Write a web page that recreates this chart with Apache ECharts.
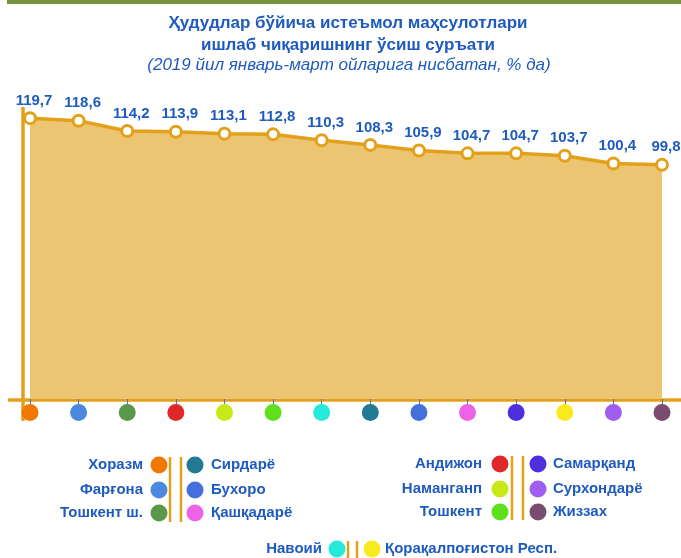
<!DOCTYPE html>
<html>
<head>
<meta charset="utf-8">
<title>Ҳудудлар бўйича истеъмол маҳсулотлари</title>
<script src="https://cdn.jsdelivr.net/npm/echarts@6/dist/echarts.min.js"></script>
<style>
  html, body { margin: 0; padding: 0; background: #fff; }
  #chart { width: 681px; height: 558px; }
</style>
</head>
<body>
<div id="chart"></div>
<script>
// regions in chart order
var regions = ['Хоразм', 'Фарғона', 'Тошкент ш.', 'Андижон', 'Наманганп', 'Тошкент', 'Навоий',
  'Сирдарё', 'Бухоро', 'Қашқадарё', 'Самарқанд', 'Қорақалпоғистон Респ.', 'Сурхондарё', 'Жиззах']
var values = [119.7, 118.6, 114.2, 113.9, 113.1, 112.8, 110.3, 108.3, 105.9, 104.7, 104.7, 103.7, 100.4, 99.8]
var regionColors = ['#F07800', '#4C88E0', '#5A974A', '#E02828', '#C8E818', '#5EE01A', '#25EAD9',
  '#237894', '#4470DD', '#EE62E8', '#4F2EDD', '#F9EA1E', '#A05EF0', '#7A4D6E']

var titleLines = ['Ҳудудлар бўйича истеъмол маҳсулотлари', 'ишлаб чиқаришнинг ўсиш суръати']
var subTitle = '(2019 йил январь-март ойларига нисбатан, % да)'

var FONT = '"Liberation Sans", Arial, sans-serif'
var BLUE = '#1F5BBF'
var GOLD = '#E3A01B'

var chart = echarts.init(document.getElementById('chart'))

function colorOf(name) {
  return regionColors[regions.indexOf(name)]
}

// rich styles for the coloured dots under the axis
var rich = {}
regions.forEach(function (r, i) {
  rich['c' + i] = { width: 17, height: 17, borderRadius: 9, backgroundColor: regionColors[i] }
})

function txt(text, x, y, align, font) {
  return {
    type: 'text', x: x, y: y,
    style: { text: text, font: font, fill: BLUE, align: align, verticalAlign: 'middle',
      textAlign: align, textVerticalAlign: 'middle' }
  }
}
function dot(name, x, y) {
  return { type: 'circle', shape: { cx: x, cy: y, r: 8.5 }, style: { fill: colorOf(name) } }
}
function bar(x, y1, y2) {
  return { type: 'line', shape: { x1: x, y1: y1, x2: x, y2: y2 }, style: { stroke: GOLD, lineWidth: 2.5 } }
}

var LFONT = 'bold 15px ' + FONT
var graphics = [
  { type: 'rect', shape: { x: 7, y: 0, width: 674, height: 4 }, style: { fill: '#77933C' } },
  txt(titleLines[0], 348, 23, 'center', 'bold 17px ' + FONT),
  txt(titleLines[1], 348, 45, 'center', 'bold 17px ' + FONT),
  txt(subTitle, 349, 65, 'center', 'italic 17px ' + FONT),
  // axis lines
  { type: 'line', shape: { x1: 8, y1: 400, x2: 681, y2: 400 }, style: { stroke: GOLD, lineWidth: 3.5 } },
  { type: 'line', shape: { x1: 23, y1: 107, x2: 23, y2: 421 }, style: { stroke: GOLD, lineWidth: 3.5 } }
]

// legend blocks: [left names, right names, nameEnd, dotL, barA, barB, dotR, nameStart, rowsY]
var legendBlocks = [
  [['Хоразм', 'Фарғона', 'Тошкент ш.'], ['Сирдарё', 'Бухоро', 'Қашқадарё'], 143, 159, 170, 181, 195, 211, [465, 490, 513], 457, 522],
  [['Андижон', 'Наманганп', 'Тошкент'], ['Самарқанд', 'Сурхондарё', 'Жиззах'], 482, 500, 512, 523, 538, 553, [464, 489, 512], 456, 520],
  [['Навоий'], ['Қорақалпоғистон Респ.'], 322, 337, 348, 357, 372, 385, [549], 541, 560]
]
legendBlocks.forEach(function (b) {
  b[8].forEach(function (y, i) {
    graphics.push(txt(b[0][i], b[2], y, 'right', LFONT))
    graphics.push(dot(b[0][i], b[3], y))
    graphics.push(dot(b[1][i], b[6], y))
    graphics.push(txt(b[1][i], b[7], y, 'left', LFONT))
  })
  graphics.push(bar(b[4], b[9], b[10]))
  graphics.push(bar(b[5], b[9], b[10]))
})

chart.setOption({
  animation: false,
  grid: { left: 30, right: 19, top: 94, bottom: 159 },
  xAxis: {
    type: 'category',
    boundaryGap: false,
    data: regions,
    axisLine: { show: false },
    axisTick: { show: true, length: 6, lineStyle: { color: '#4A78B0', width: 1 } },
    axisLabel: {
      margin: 5,
      interval: 0,
      formatter: function (v) { return '{c' + regions.indexOf(v) + '|}' },
      rich: rich
    },
    splitLine: { show: false }
  },
  yAxis: {
    type: 'value', min: 0, max: 130, show: false, splitLine: { show: false }
  },
  series: [{
    type: 'line',
    data: values,
    symbol: 'circle',
    symbolSize: 11,
    lineStyle: { color: GOLD, width: 3.5 },
    itemStyle: { color: '#fff', borderColor: GOLD, borderWidth: 3 },
    areaStyle: { color: '#EBC571', opacity: 1 },
    label: {
      show: true,
      position: 'top',
      distance: 3,
      offset: [4, 0],
      color: BLUE,
      fontWeight: 'bold',
      fontSize: 15,
      fontFamily: FONT,
      formatter: function (p) { return String(p.value).replace('.', ',') }
    },
    z: 3
  }],
  graphic: graphics
})
</script>
</body>
</html>
